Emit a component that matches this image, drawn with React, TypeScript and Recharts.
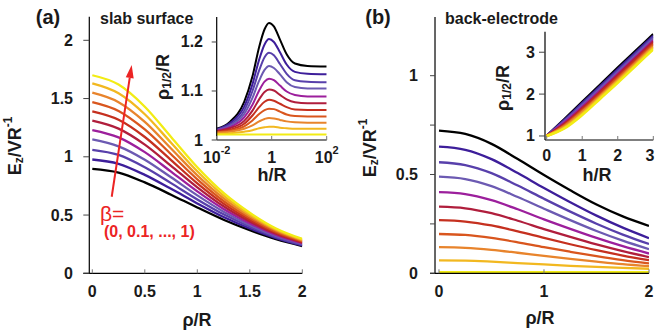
import React from 'react';
import { LineChart, Line, XAxis, YAxis, ReferenceLine } from 'recharts';

const W = 656;
const H = 333;
const FONT = '"Liberation Sans", Arial, Helvetica, sans-serif';
const INK = '#1a1a1a';
const RED = '#ec2424';

// beta = 0, 0.1, ..., 1
const betaColors = ['#000000', '#3d1e9a', '#5840ab', '#6c5ab2', '#9c1f9c', '#b01e3c', '#c5301f', '#d9561e', '#e8842c', '#f2b820', '#f2ec14'];

// (a) slab surface: Ez vs rho
const rhoA = [0, 0.25, 0.5, 0.75, 1, 1.25, 1.5, 1.75, 2];
const slabEz = [
  [0.897, 0.865, 0.78, 0.675, 0.565, 0.46, 0.37, 0.293, 0.234],
  [0.977, 0.94, 0.845, 0.725, 0.6, 0.483, 0.385, 0.302, 0.24],
  [1.06, 1.016, 0.91, 0.774, 0.634, 0.506, 0.4, 0.311, 0.246],
  [1.15, 1.09, 0.975, 0.824, 0.669, 0.529, 0.415, 0.321, 0.252],
  [1.23, 1.167, 1.04, 0.873, 0.703, 0.552, 0.43, 0.33, 0.258],
  [1.31, 1.242, 1.105, 0.923, 0.738, 0.575, 0.445, 0.339, 0.264],
  [1.39, 1.318, 1.17, 0.972, 0.772, 0.598, 0.46, 0.348, 0.27],
  [1.47, 1.394, 1.235, 1.022, 0.807, 0.621, 0.475, 0.357, 0.277],
  [1.55, 1.469, 1.3, 1.071, 0.841, 0.644, 0.49, 0.367, 0.283],
  [1.63, 1.545, 1.365, 1.12, 0.876, 0.667, 0.505, 0.376, 0.289],
  [1.7, 1.62, 1.43, 1.17, 0.91, 0.69, 0.52, 0.385, 0.295],
];

// (a) inset: rho_1/2 vs h (log)
const hA = [0.01, 0.03, 0.1, 0.2, 0.35, 0.55, 0.8, 1.2, 2, 3.5, 7, 20, 100];
const slabRho = [
  [1.023, 1.037, 1.078, 1.13, 1.19, 1.226, 1.239, 1.232, 1.205, 1.175, 1.156, 1.151, 1.15],
  [1.022, 1.034, 1.068, 1.114, 1.164, 1.195, 1.206, 1.2, 1.179, 1.154, 1.139, 1.135, 1.134],
  [1.021, 1.031, 1.06, 1.1, 1.142, 1.169, 1.178, 1.173, 1.155, 1.135, 1.122, 1.119, 1.118],
  [1.02, 1.029, 1.053, 1.086, 1.121, 1.143, 1.151, 1.147, 1.134, 1.118, 1.108, 1.105, 1.105],
  [1.019, 1.026, 1.046, 1.072, 1.101, 1.119, 1.125, 1.122, 1.111, 1.099, 1.092, 1.089, 1.089],
  [1.018, 1.024, 1.039, 1.06, 1.083, 1.098, 1.103, 1.101, 1.092, 1.083, 1.077, 1.075, 1.075],
  [1.017, 1.021, 1.033, 1.05, 1.067, 1.078, 1.082, 1.08, 1.074, 1.067, 1.062, 1.061, 1.061],
  [1.016, 1.019, 1.028, 1.04, 1.053, 1.061, 1.064, 1.063, 1.058, 1.052, 1.049, 1.048, 1.048],
  [1.015, 1.017, 1.023, 1.03, 1.038, 1.043, 1.045, 1.044, 1.041, 1.038, 1.036, 1.035, 1.035],
  [1.013, 1.014, 1.017, 1.02, 1.024, 1.026, 1.027, 1.027, 1.025, 1.024, 1.023, 1.023, 1.023],
  [1.011, 1.011, 1.011, 1.011, 1.011, 1.011, 1.011, 1.011, 1.011, 1.011, 1.011, 1.011, 1.011],
];

// (b) back-electrode: Ez vs rho
const rhoB = [0, 0.25, 0.5, 0.75, 1, 1.25, 1.5, 1.75, 2];
const backEz = [
  [0.722, 0.705, 0.655, 0.578, 0.497, 0.42, 0.348, 0.288, 0.24],
  [0.641, 0.625, 0.578, 0.507, 0.432, 0.36, 0.292, 0.231, 0.178],
  [0.562, 0.548, 0.507, 0.444, 0.377, 0.312, 0.251, 0.196, 0.148],
  [0.489, 0.477, 0.441, 0.386, 0.327, 0.269, 0.214, 0.165, 0.122],
  [0.411, 0.401, 0.37, 0.324, 0.273, 0.225, 0.179, 0.137, 0.1],
  [0.337, 0.329, 0.304, 0.266, 0.224, 0.184, 0.146, 0.112, 0.082],
  [0.269, 0.262, 0.242, 0.212, 0.179, 0.147, 0.117, 0.09, 0.066],
  [0.199, 0.194, 0.179, 0.157, 0.132, 0.109, 0.087, 0.067, 0.05],
  [0.132, 0.129, 0.119, 0.104, 0.088, 0.073, 0.059, 0.046, 0.036],
  [0.065, 0.064, 0.059, 0.052, 0.045, 0.038, 0.032, 0.027, 0.023],
  [0.006, 0.006, 0.006, 0.006, 0.006, 0.006, 0.006, 0.006, 0.006],
];

// (b) inset: rho_1/2 vs h
const hB = [0, 0.5, 1, 1.5, 2, 2.5, 3];
const backRho = [
  [1, 1.4, 1.81, 2.22, 2.63, 3.03, 3.43],
  [1, 1.38, 1.78, 2.18, 2.59, 2.99, 3.39],
  [1, 1.36, 1.75, 2.15, 2.55, 2.95, 3.36],
  [1, 1.34, 1.72, 2.12, 2.52, 2.92, 3.32],
  [1, 1.32, 1.69, 2.08, 2.48, 2.88, 3.28],
  [1, 1.29, 1.66, 2.05, 2.45, 2.85, 3.25],
  [1, 1.27, 1.63, 2.02, 2.41, 2.81, 3.21],
  [1, 1.25, 1.6, 1.98, 2.38, 2.77, 3.18],
  [1, 1.23, 1.57, 1.95, 2.34, 2.74, 3.14],
  [1, 1.2, 1.53, 1.92, 2.31, 2.7, 3.11],
  [1, 1.18, 1.5, 1.885, 2.27, 2.67, 3.07],
];

const arrowTail = { x: 0.185, y: 0.657 };
const arrowHead = { x: 0.375, y: 1.788 };

const toRows = (xs: number[], series: number[][]) =>
  xs.map((x, i) => {
    const row: Record<string, number> = { x };
    series.forEach((s, k) => {
      row['s' + k] = s[i];
    });
    return row;
  });

type Box = { l: number; t: number; r: number; b: number };
const YW = 40;
const XH = 40;
const marginFor = (bx: Box) => ({ left: bx.l - YW, top: bx.t, right: W - bx.r, bottom: H - bx.b - XH });

const txt = { fontFamily: FONT, fontWeight: 'bold' as const, fill: INK };

// x ticks point up into the plot, labels below
const xTick = (axisY: number, dy: number, size: number, fmt: (v: number) => React.ReactNode = (v) => String(v), maxX = W) =>
  (p: any) => (
    <g>
      <line x1={p.x} x2={p.x} y1={axisY} y2={axisY - 4} stroke="#777" strokeWidth={1} />
      <text x={Math.min(p.x, maxX)} y={axisY + dy} textAnchor="middle" dominantBaseline="central" fontSize={size} {...txt}>
        {fmt(p.payload.value)}
      </text>
    </g>
  );

// y ticks point left from the axis line
const yTick = (axisX: number, len: number, labelX: number, size: number, labels: number[]) =>
  (p: any) => (
    <g>
      <line x1={axisX - len} x2={axisX} y1={p.y} y2={p.y} stroke="#444" strokeWidth={1} />
      {labels.includes(p.payload.value) && (
        <text x={labelX} y={p.y} textAnchor="end" dominantBaseline="central" fontSize={size} {...txt}>
          {String(p.payload.value)}
        </text>
      )}
    </g>
  );

const pow10 = (v: number) => {
  if (v === 1) return '1';
  const e = Math.round(Math.log10(v));
  return (
    <>
      10<tspan dy={-7} fontSize={11}>{e}</tspan>
    </>
  );
};

const arrowShape = (p: any) => {
  const { x1, y1, x2, y2 } = p;
  const ang = Math.atan2(y2 - y1, x2 - x1);
  const len = 13;
  const half = 4;
  const bx = x2 - len * Math.cos(ang);
  const by = y2 - len * Math.sin(ang);
  const px = -Math.sin(ang) * half;
  const py = Math.cos(ang) * half;
  return (
    <g>
      <line x1={x1} y1={y1} x2={bx} y2={by} stroke={RED} strokeWidth={2} />
      <polygon points={`${x2},${y2} ${bx + px},${by + py} ${bx - px},${by - py}`} fill={RED} />
    </g>
  );
};

const series = (n: number, width: number) =>
  Array.from({ length: n }, (_, k) => (
    <Line
      key={k}
      type="monotone"
      dataKey={'s' + k}
      stroke={betaColors[k]}
      strokeWidth={width}
      dot={false}
      isAnimationActive={false}
    />
  ));

const layer: React.CSSProperties = { position: 'absolute', left: 0, top: 0 };

const boxA: Box = { l: 83.3, t: 16.7, r: 302.3, b: 273.3 };
const boxAi: Box = { l: 216.7, t: 17, r: 326.7, b: 140 };
const boxB: Box = { l: 430, t: 17, r: 649, b: 273.3 };
const boxBi: Box = { l: 545, t: 31.7, r: 653.3, b: 140 };

const Ez = ({ x, y }: { x: number; y: number }) => (
  <text transform={`translate(${x},${y}) rotate(-90)`} textAnchor="middle" dominantBaseline="central" fontSize={18} {...txt}>
    E<tspan dy={4} fontSize={12}>z</tspan>
    <tspan dy={-4}>/VR</tspan>
    <tspan dy={-7} fontSize={12}>-1</tspan>
  </text>
);

const RhoHalf = ({ x, y }: { x: number; y: number }) => (
  <text transform={`translate(${x},${y}) rotate(-90)`} textAnchor="middle" dominantBaseline="central" fontSize={18} {...txt}>
    ρ<tspan dy={4} fontSize={12}>1/2</tspan>
    <tspan dy={-4}>/R</tspan>
  </text>
);

export default function App() {
  const dataA = toRows(rhoA, slabEz);
  const dataAi = toRows(hA, slabRho);
  const dataB = toRows(rhoB, backEz);
  const dataBi = toRows(hB, backRho);

  return (
    <div style={{ position: 'absolute', left: 0, top: 0, width: W, height: H, background: '#fff' }}>
      <div style={layer}>
        <LineChart width={W} height={H} data={dataA} margin={marginFor(boxA)}>
          <XAxis type="number" dataKey="x" domain={[-0.0857, 2]} ticks={[0, 0.5, 1, 1.5, 2]} interval={0} allowDataOverflow
            height={XH} axisLine={{ stroke: '#000', strokeWidth: 1.2 }} tickLine={false} tick={xTick(boxA.b, 18, 16)} />
          <YAxis type="number" domain={[0, 2.2026]} ticks={[0, 0.5, 1, 1.5, 2]} interval={0} allowDataOverflow
            width={YW} axisLine={false} tickLine={false} tick={yTick(89.3, 6, 73, 16, [0, 0.5, 1, 1.5, 2])} />
          <ReferenceLine x={-0.0286} stroke="#000" strokeWidth={1.2} />
          {series(11, 2.3)}
          <ReferenceLine segment={[arrowTail, arrowHead]} shape={arrowShape} />
        </LineChart>
      </div>

      <div style={layer}>
        <LineChart width={W} height={H} data={dataAi} margin={marginFor(boxAi)}>
          <XAxis type="number" dataKey="x" scale="log" domain={[0.01, 100]} ticks={[0.01, 1, 100]} interval={0} allowDataOverflow
            height={XH} axisLine={{ stroke: '#000', strokeWidth: 1.2 }} tickLine={false} tick={xTick(boxAi.b, 17, 16, pow10)} />
          <YAxis type="number" domain={[1, 1.251]} ticks={[1, 1.1, 1.2]} interval={0} allowDataOverflow
            width={YW} axisLine={{ stroke: '#000', strokeWidth: 1.2 }} tickLine={false} tick={yTick(boxAi.l, 5, 203, 16, [1, 1.1, 1.2])} />
          {series(11, 2)}
        </LineChart>
      </div>

      <div style={layer}>
        <LineChart width={W} height={H} data={dataB} margin={marginFor(boxB)}>
          <XAxis type="number" dataKey="x" domain={[-0.0857, 2]} ticks={[0, 1, 2]} interval={0} allowDataOverflow
            height={XH} axisLine={{ stroke: '#000', strokeWidth: 1.2 }} tickLine={false} tick={xTick(boxB.b, 18, 16)} />
          <YAxis type="number" domain={[0, 1.297]} ticks={[0, 0.25, 0.5, 0.75, 1]} interval={0} allowDataOverflow
            width={YW} axisLine={false} tickLine={false} tick={yTick(435, 5, 418, 16, [0, 0.5, 1])} />
          <ReferenceLine x={-0.038} stroke="#000" strokeWidth={1.2} />
          {series(11, 2.3)}
        </LineChart>
      </div>

      <div style={layer}>
        <LineChart width={W} height={H} data={dataBi} margin={marginFor(boxBi)}>
          <XAxis type="number" dataKey="x" domain={[-0.047, 3]} ticks={[0, 1, 2, 3]} interval={0} allowDataOverflow
            height={XH} axisLine={{ stroke: '#000', strokeWidth: 1.2 }} tickLine={false} tick={xTick(boxBi.b, 15, 16, undefined, 650)} />
          <YAxis type="number" domain={[0.904, 3.49]} ticks={[1, 2, 3]} interval={0} allowDataOverflow
            width={YW} axisLine={{ stroke: '#000', strokeWidth: 1.2 }} tickLine={false} tick={yTick(boxBi.l, 6, 535, 16, [1, 2, 3])} />
          {series(11, 2.6)}
        </LineChart>
      </div>

      <svg width={W} height={H} style={{ ...layer, pointerEvents: 'none' }}>
        <text x={48} y={17} textAnchor="middle" dominantBaseline="central" fontSize={20} {...txt}>(a)</text>
        <text x={100} y={18} dominantBaseline="central" fontSize={16} {...txt}>slab surface</text>
        <text x={378} y={17} textAnchor="middle" dominantBaseline="central" fontSize={20} {...txt}>(b)</text>
        <text x={445} y={18} dominantBaseline="central" fontSize={16} {...txt}>back-electrode</text>

        <Ez x={15} y={146} />
        <Ez x={370} y={148} />
        <RhoHalf x={163} y={77} />
        <RhoHalf x={503} y={88} />

        <text x={197} y={320} textAnchor="middle" dominantBaseline="central" fontSize={18} {...txt}>ρ/R</text>
        <text x={540} y={318} textAnchor="middle" dominantBaseline="central" fontSize={18} {...txt}>ρ/R</text>
        <text x={272} y={175} textAnchor="middle" dominantBaseline="central" fontSize={18} {...txt}>h/R</text>
        <text x={597} y={175} textAnchor="middle" dominantBaseline="central" fontSize={18} {...txt}>h/R</text>

        <text x={100} y={213} dominantBaseline="central" fontSize={21} fontFamily={FONT} fill={RED}>β=</text>
        <text x={104} y={231} dominantBaseline="central" fontSize={16} fontFamily={FONT} fontWeight="bold" fill={RED}>
          (0, 0.1, ..., 1)
        </text>
      </svg>
    </div>
  );
}
